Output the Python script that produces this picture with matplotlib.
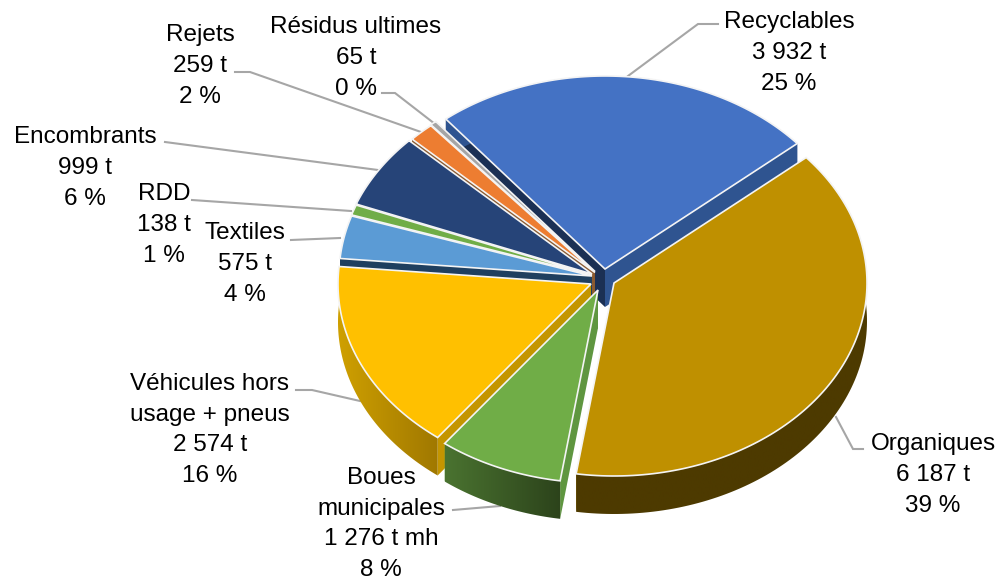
import numpy as np
import matplotlib
matplotlib.use("Agg")
from matplotlib import pyplot as plt
from matplotlib.colors import LinearSegmentedColormap
from matplotlib.patches import Polygon

plt.rcParams['font.family'] = ['Liberation Sans', 'DejaVu Sans']

# donnees
noms = ["Recyclables", "Organiques", "Boues\nmunicipales", "Véhicules hors\nusage + pneus",
        "Textiles", "RDD", "Encombrants", "Rejets", "Résidus ultimes"]
tonnes = [3932, 6187, 1276, 2574, 575, 138, 999, 259, 65]
textes_t = ["3 932 t", "6 187 t", "1 276 t mh", "2 574 t", "575 t", "138 t", "999 t", "259 t", "65 t"]
pourcents = ["25 %", "39 %", "8 %", "16 %", "4 %", "1 %", "6 %", "2 %", "0 %"]

# couleurs: dessus, coupes, mur exterieur (degrade gauche -> droite)
dessus = ["#4472c4", "#bf9000", "#70ad47", "#ffc000", "#5b9bd5", "#70ad47", "#264478", "#ed7d31", "#a5a5a5"]
coupe_g = ["#1b3054", "#bf9000", "#5f9640", "#c49500", "#1f3f5f", "#3f6a28", "#666666", "#8a5a30", "#777777"]
coupe_d = ["#2f5490", "#bf9000", "#5f9640", "#c49500", "#1f3f5f", "#3f6a28", "#666666", "#8a5a30", "#777777"]
mur_g = ["#2f5490", "#4d3a00", "#4a7330", "#cfa000", "#1f3f5f", "#3f6a28", "#1a2f55", "#8a5a30", "#777777"]
mur_d = ["#2f5490", "#4d3a00", "#2c431b", "#a07800", "#1f3f5f", "#3f6a28", "#1a2f55", "#8a5a30", "#777777"]

# position de chaque pointe, en pixels de l'image
apex_x = [605, 614, 598, 591, 592, 592, 592, 595, 595]
apex_y = [269, 283, 290, 284, 276, 275, 274, 272.5, 271.5]

A, B = 253, 193
PROF = 38
DEPART = -39

# position des etiquettes (centre du bloc)
lab_x = [789, 933, 381, 210, 245, 164, 85, 200, 356]
lab_y = [50, 472, 521, 427, 261, 222, 165, 63, 55]
INTERLIGNE = 30.7
# traits de rappel
traits = [[(718, 24), (698, 24), (628, 76)],
          [(863, 449), (853, 449), (836, 417)],
          [(453, 510), (500, 506)],
          [(296, 390), (312, 390), (360, 401)],
          [(291, 240), (340, 238)],
          [(192, 200), (351, 211)],
          [(165, 142), (378, 170)],
          [(235, 72), (250, 72), (421, 132)],
          [(382, 93), (395, 93), (435, 124)]]

fig = plt.figure(figsize=(9.99, 5.81), dpi=100)
ax = fig.add_axes([0, 0, 1, 1])
ax.axis('off')

angles = np.concatenate([[0], np.cumsum(tonnes)]) / sum(tonnes) * 360 + DEPART


def arc(i):
    t = np.radians(np.linspace(angles[i], angles[i + 1], 120))
    return apex_x[i] + A * np.sin(t), apex_y[i] - B * np.cos(t)


def dessine(i, z):
    x, y = arc(i)
    px, py = apex_x[i], apex_y[i]
    # murs de coupe
    ax.add_patch(Polygon([(px, py), (x[0], y[0]), (x[0], y[0] + PROF), (px, py + PROF)],
                         fc=coupe_g[i], ec='none', zorder=z))
    ax.add_patch(Polygon([(px, py), (x[-1], y[-1]), (x[-1], y[-1] + PROF), (px, py + PROF)],
                         fc=coupe_d[i], ec='none', zorder=z))
    # mur exterieur avec degrade
    contour = list(zip(x, y)) + list(zip(x[::-1], y[::-1] + PROF))
    mur = Polygon(contour, closed=True, fc='none', ec='none', transform=ax.transData)
    ax.add_patch(mur)
    cm = LinearSegmentedColormap.from_list("m", [mur_g[i], mur_d[i]])
    img = ax.imshow(np.linspace(0, 1, 256).reshape(1, -1), cmap=cm, aspect='auto', interpolation='bilinear',
                    extent=[x.min(), x.max(), y.max() + PROF, y.min()], zorder=z)
    img.set_clip_path(mur)
    # dessus
    pts = [(px, py)] + list(zip(x, y))
    ax.add_patch(Polygon(pts, closed=True, fc=dessus[i], ec='#f4f4f4', lw=1.2, joinstyle='miter', zorder=z + 0.5))


# du fond vers l'avant
ordre = [0, 8, 7, 6, 5, 4, 3, 2, 1]
for z, i in enumerate(ordre):
    dessine(i, z + 2)

for t in traits:
    ax.plot([p[0] for p in t], [p[1] for p in t], color='#a6a6a6', lw=1.5, zorder=1, solid_joinstyle='miter')

# une ligne de texte a la fois
for i in range(len(noms)):
    lignes = noms[i].split("\n") + [textes_t[i], pourcents[i]]
    for k, ligne in enumerate(lignes):
        yl = lab_y[i] + (k - (len(lignes) - 1) / 2) * INTERLIGNE + 9
        ax.text(lab_x[i], yl, ligne, ha='center', va='baseline', fontsize=17.5, color='black', zorder=30)

ax.set_xlim(0, 999)
ax.set_ylim(581, 0)

fig.savefig("out.png", dpi=100)
